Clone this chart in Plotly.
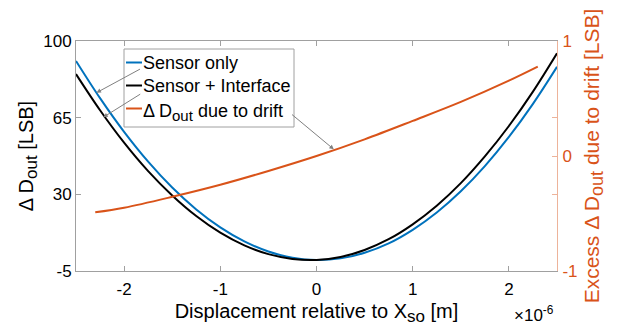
import plotly.graph_objects as go

# Displacement relative to X_so, in units of 1e-6 m
displacement = [-2.5, -2.25, -2.0, -1.75, -1.5, -1.25, -1.0, -0.75, -0.5, -0.25, 0.0,
                0.25, 0.5, 0.75, 1.0, 1.25, 1.5, 1.75, 2.0, 2.25, 2.5]
sensor_only = [90.9, 73.9, 58.5, 44.9, 33.1, 23.1, 14.9, 8.5, 3.9, 1.05, 0.0,
               0.76, 3.3, 7.6, 13.8, 21.7, 31.4, 42.9, 56.2, 71.3, 88.2]
sensor_interface = [84.9, 68.4, 53.6, 40.6, 29.5, 20.1, 12.5, 6.7, 2.7, 0.5, 0.06,
                    1.4, 4.6, 9.5, 16.3, 24.8, 35.1, 47.3, 61.2, 76.9, 94.4]
drift_x = [-2.3, -2.0, -1.5, -1.0, -0.5, 0.0, 0.5, 1.0, 1.5, 2.0, 2.3]
drift_excess = [-0.49, -0.45, -0.355, -0.25, -0.13, 0.0, 0.145, 0.305, 0.47, 0.655, 0.777]

x_ticks = [-2, -1, 0, 1, 2]
x_tick_labels = ["-2", "-1", "0", "1", "2"]
y_left_ticks = [-5, 30, 65, 100]
y_left_labels = ["-5", "30", "65", "100"]
y_right_ticks = [-1, -1 / 3, 0, 1 / 3, 1]
y_right_labels = ["-1", "", "0", "", "1"]

BLUE = "#0072BD"
BLACK = "#000000"
ORANGE = "#D95319"
FONT = "Liberation Sans"


def sub(t, size):
    return '<sub><span style="font-size:%dpx">%s</span></sub>' % (size, t)


fig = go.Figure()
fig.add_trace(go.Scatter(x=displacement, y=sensor_only, mode="lines", name="Sensor only",
                         line=dict(color=BLUE, width=2, shape="spline"), yaxis="y"))
fig.add_trace(go.Scatter(x=displacement, y=sensor_interface, mode="lines", name="Sensor + Interface",
                         line=dict(color=BLACK, width=2, shape="spline"), yaxis="y"))
fig.add_trace(go.Scatter(x=drift_x, y=drift_excess, mode="lines", name="Δ D_out due to drift",
                         line=dict(color=ORANGE, width=2, shape="spline"), yaxis="y2"))

W, H = 625, 328
L, R, T, B = 76, 557, 41, 271


def px(xp):
    return (xp - L) / (R - L)


def py(yp):
    return (B - yp) / (B - T)


shapes = []
annotations = []

# manual legend box
shapes.append(dict(type="rect", xref="paper", yref="paper", x0=px(124), x1=px(294),
                   y0=py(127), y1=py(49), line=dict(color="#A0A0A0", width=1),
                   fillcolor="white", layer="above"))
legend_rows = [("Sensor only", BLUE, 62.5), ("Sensor + Interface", BLACK, 85.5),
               ("Δ D" + sub("out", 15) + " due to drift", ORANGE, 108.5)]
for i, (label, col, yrow) in enumerate(legend_rows):
    shapes.append(dict(type="line", xref="paper", yref="paper", x0=px(126), x1=px(142),
                       y0=py(yrow), y1=py(yrow), line=dict(color=col, width=2), layer="above"))
    yoff = 4 if i == 2 else 0
    annotations.append(dict(text=label, xref="paper", yref="paper", x=px(141.5), y=py(yrow + yoff),
                            xanchor="left", yanchor="middle", showarrow=False, borderpad=0,
                            font=dict(family=FONT, size=18, color="black")))

# arrows from legend entries to the curves
arrow_style = dict(showarrow=True, arrowhead=2, arrowsize=0.9, arrowwidth=1,
                   arrowcolor="#808080", text="", standoff=0)
annotations.append(dict(x=-2.287, y=76.4, xref="x", yref="y", ax=45, ay=-24.4, **arrow_style))
annotations.append(dict(x=-2.216, y=65.2, xref="x", yref="y", ax=38.4, ay=-24, **arrow_style))
annotations.append(dict(x=0.18, y=0.058, xref="x", yref="y2", ax=-43.3, ay=-36, **arrow_style))

# exponent label
annotations.append(dict(text="×10<sup>-6</sup>", xref="paper", yref="paper", x=px(534), y=py(314),
                        xanchor="center", yanchor="middle", showarrow=False,
                        font=dict(family=FONT, size=17, color="black")))

fig.update_layout(
    width=W, height=H,
    margin=dict(l=L, r=W - R, t=T, b=H - B),
    paper_bgcolor="white", plot_bgcolor="white",
    showlegend=False,
    font=dict(family=FONT, size=17, color="black"),
    xaxis=dict(range=[-2.5, 2.5], tickvals=x_ticks, ticktext=x_tick_labels,
               ticks="inside", ticklen=5, automargin=False,
               tickcolor="#A0A0A0", showline=True, linecolor="#A0A0A0", linewidth=1,
               mirror="ticks", showgrid=False, zeroline=False, ticklabelstandoff=3,
               tickfont=dict(family=FONT, size=17, color="black"),
               title=dict(text="Displacement relative to X" + sub("so", 17) + " [m]",
                          font=dict(family=FONT, size=20, color="black"), standoff=5)),
    yaxis=dict(range=[-5, 100], tickvals=y_left_ticks, ticktext=y_left_labels,
               ticks="inside", ticklen=5, automargin=False,
               tickcolor="#A0A0A0", showline=True, linecolor="#A0A0A0", linewidth=1,
               showgrid=False, zeroline=False,
               tickfont=dict(family=FONT, size=17, color="black"),
               title=dict(text="Δ D" + sub("out", 17) + " [LSB]",
                          font=dict(family=FONT, size=20, color="black"), standoff=4)),
    yaxis2=dict(range=[-1, 1], overlaying="y", side="right", tickvals=y_right_ticks,
                ticktext=y_right_labels, ticks="inside", ticklen=5, tickcolor="#EDB39A",
                automargin=False, ticklabelstandoff=1,
                showline=True, linecolor="#EDB39A", linewidth=1, showgrid=False, zeroline=False,
                tickfont=dict(family=FONT, size=17, color=ORANGE),
                title=dict(text="Excess Δ D" + sub("out", 18) + " due to drift [LSB]",
                           font=dict(family=FONT, size=21, color=ORANGE), standoff=7)),
    shapes=shapes,
    annotations=annotations,
)

fig.write_html("out.html", config={"displayModeBar": False},
               post_script="document.body.style.margin='0';")
